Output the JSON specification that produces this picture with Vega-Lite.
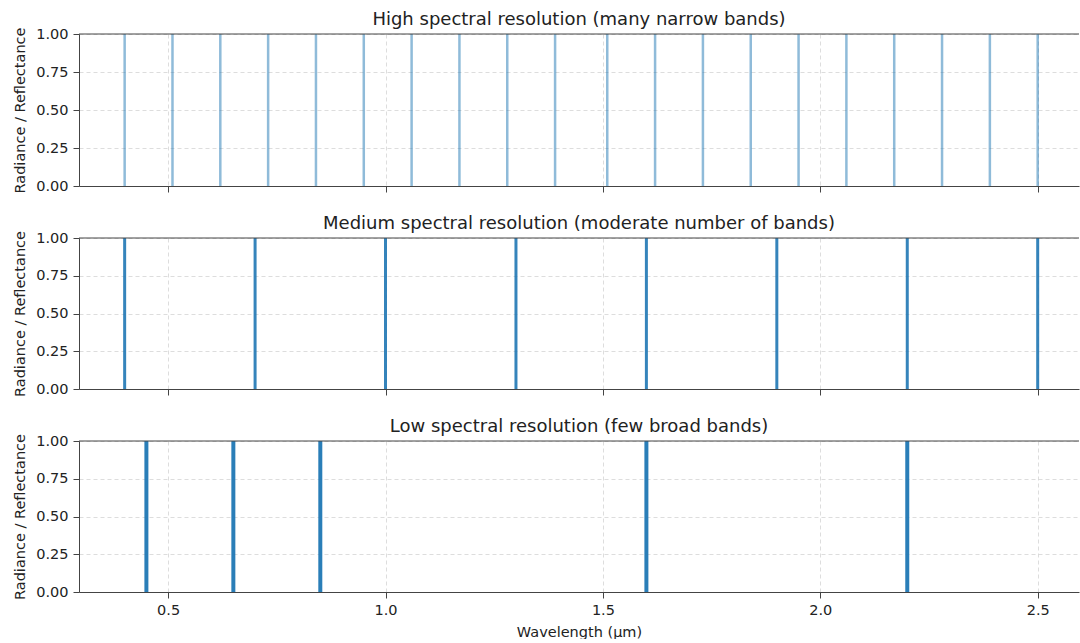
{
  "$schema": "https://vega.github.io/schema/vega-lite/v6.json",
  "padding": {"left": 12, "top": 11, "right": 0, "bottom": 0},
  "bounds": "flush",
  "spacing": 52,
  "data": {
    "values": [
      {"res": "High", "wl": 0.40}, {"res": "High", "wl": 0.51}, {"res": "High", "wl": 0.62}, {"res": "High", "wl": 0.73},
      {"res": "High", "wl": 0.84}, {"res": "High", "wl": 0.95}, {"res": "High", "wl": 1.06}, {"res": "High", "wl": 1.17},
      {"res": "High", "wl": 1.28}, {"res": "High", "wl": 1.39}, {"res": "High", "wl": 1.51}, {"res": "High", "wl": 1.62},
      {"res": "High", "wl": 1.73}, {"res": "High", "wl": 1.84}, {"res": "High", "wl": 1.95}, {"res": "High", "wl": 2.06},
      {"res": "High", "wl": 2.17}, {"res": "High", "wl": 2.28}, {"res": "High", "wl": 2.39}, {"res": "High", "wl": 2.50},
      {"res": "Medium", "wl": 0.4}, {"res": "Medium", "wl": 0.7}, {"res": "Medium", "wl": 1.0}, {"res": "Medium", "wl": 1.3},
      {"res": "Medium", "wl": 1.6}, {"res": "Medium", "wl": 1.9}, {"res": "Medium", "wl": 2.2}, {"res": "Medium", "wl": 2.5},
      {"res": "Low", "wl": 0.45}, {"res": "Low", "wl": 0.65}, {"res": "Low", "wl": 0.85}, {"res": "Low", "wl": 1.6},
      {"res": "Low", "wl": 2.2}
    ]
  },
  "vconcat": [
    {
      "title": "High spectral resolution (many narrow bands)",
      "width": 1000,
      "height": 152,
      "layer": [
        {
          "transform": [{"filter": "datum.res === 'High'"}],
          "mark": {"type": "rule", "color": "#1f77b4", "strokeWidth": 2.5, "opacity": 0.5},
          "encoding": {
            "x": {"field": "wl", "type": "quantitative", "scale": {"domain": [0.295, 2.595], "nice": false, "zero": false},
                  "axis": {"values": [0.5, 1.0, 1.5, 2.0, 2.5], "labels": false, "title": null, "grid": true}},
            "y": {"datum": 0, "type": "quantitative", "scale": {"domain": [0, 1], "nice": false},
                  "axis": {"values": [0, 0.25, 0.5, 0.75, 1], "format": ".2f", "title": "Radiance / Reflectance", "grid": true}},
            "y2": {"datum": 1}
          }
        },
        {
          "data": {"values": [{"top": 1}]},
          "mark": {"type": "rule", "color": "#444", "strokeWidth": 1},
          "encoding": {"y": {"field": "top", "type": "quantitative",
                  "axis": {"values": [0, 0.25, 0.5, 0.75, 1], "format": ".2f", "title": "Radiance / Reflectance", "grid": true}}}
        }
      ]
    },
    {
      "title": "Medium spectral resolution (moderate number of bands)",
      "width": 1000,
      "height": 151,
      "layer": [
        {
          "transform": [{"filter": "datum.res === 'Medium'"}],
          "mark": {"type": "rule", "color": "#1f77b4", "strokeWidth": 3, "opacity": 0.9},
          "encoding": {
            "x": {"field": "wl", "type": "quantitative", "scale": {"domain": [0.295, 2.595], "nice": false, "zero": false},
                  "axis": {"values": [0.5, 1.0, 1.5, 2.0, 2.5], "labels": false, "title": null, "grid": true}},
            "y": {"datum": 0, "type": "quantitative", "scale": {"domain": [0, 1], "nice": false},
                  "axis": {"values": [0, 0.25, 0.5, 0.75, 1], "format": ".2f", "title": "Radiance / Reflectance", "grid": true}},
            "y2": {"datum": 1}
          }
        },
        {
          "data": {"values": [{"top": 1}]},
          "mark": {"type": "rule", "color": "#444", "strokeWidth": 1},
          "encoding": {"y": {"field": "top", "type": "quantitative",
                  "axis": {"values": [0, 0.25, 0.5, 0.75, 1], "format": ".2f", "title": "Radiance / Reflectance", "grid": true}}}
        }
      ]
    },
    {
      "title": "Low spectral resolution (few broad bands)",
      "width": 1000,
      "height": 151,
      "layer": [
        {
          "transform": [{"filter": "datum.res === 'Low'"}],
          "mark": {"type": "rule", "color": "#1f77b4", "strokeWidth": 4, "opacity": 0.95},
          "encoding": {
            "x": {"field": "wl", "type": "quantitative", "scale": {"domain": [0.295, 2.595], "nice": false, "zero": false},
                  "axis": {"values": [0.5, 1.0, 1.5, 2.0, 2.5], "format": ".1f", "title": "Wavelength (µm)", "grid": true, "titlePadding": 9}},
            "y": {"datum": 0, "type": "quantitative", "scale": {"domain": [0, 1], "nice": false},
                  "axis": {"values": [0, 0.25, 0.5, 0.75, 1], "format": ".2f", "title": "Radiance / Reflectance", "grid": true}},
            "y2": {"datum": 1}
          }
        },
        {
          "data": {"values": [{"top": 1}]},
          "mark": {"type": "rule", "color": "#444", "strokeWidth": 1},
          "encoding": {"y": {"field": "top", "type": "quantitative",
                  "axis": {"values": [0, 0.25, 0.5, 0.75, 1], "format": ".2f", "title": "Radiance / Reflectance", "grid": true}}}
        }
      ]
    }
  ],
  "config": {
    "font": "DejaVu Sans",
    "view": {"stroke": null},
    "axis": {
      "labelFont": "DejaVu Sans", "labelFontSize": 14.5, "labelColor": "#222",
      "titleFont": "DejaVu Sans", "titleFontSize": 14.5, "titleFontWeight": "normal", "titleColor": "#222",
      "domainColor": "#444", "tickColor": "#444", "tickSize": 6, "labelPadding": 5,
      "gridColor": "#d4d4d4", "gridDash": [4, 3], "gridWidth": 0.8
    },
    "axisY": {"titlePadding": 8},
    "title": {"font": "DejaVu Sans", "fontSize": 18, "fontWeight": "normal", "color": "#222", "offset": -3}
  }
}
